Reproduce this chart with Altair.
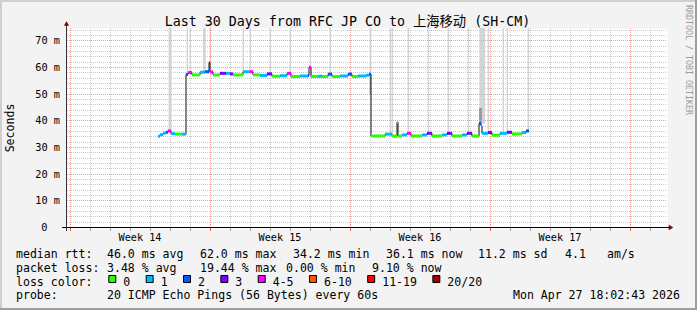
import altair as alt
import pandas as pd

MONO = "DejaVu Sans Mono, Noto Sans CJK SC, monospace"

# ---------------- data ----------------
# median RTT steps: start of step (days since start of window), value (ms), loss class
seg_day = [4.55, 4.65, 4.80, 4.95, 5.05, 5.20, 5.40, 5.75,
           5.95, 6.05, 6.25, 6.65, 6.90, 7.10, 7.15, 7.30, 7.65, 7.95, 8.15, 8.30,
           8.80, 9.15, 9.30, 9.65, 10.00, 10.25, 10.65, 11.00, 11.20, 11.65, 12.05,
           12.10, 12.20, 12.55, 12.75, 13.05, 13.25, 13.65, 14.05, 14.25, 14.55,
           14.95, 15.10,
           15.20, 15.90, 16.25, 16.50, 16.55, 16.75, 17.00, 17.20, 17.75, 18.00,
           18.25, 18.75, 19.00, 19.25, 19.75, 20.00, 20.25, 20.60, 20.70, 20.75,
           21.05, 21.25, 21.65, 22.00, 22.25, 22.75, 22.95]
seg_ms = [34.4, 35.0, 35.6, 35.9, 36.4, 35.4, 35.2, 35.2,
          57.6, 58.3, 57.4, 58.4, 58.6, 62.0, 58.5, 57.4, 58.0, 58.0, 57.8, 57.4,
          58.6, 58.6, 57.4, 57.2, 57.8, 56.9, 57.1, 58.0, 56.8, 57.0, 57.2,
          60.3, 56.8, 56.9, 56.8, 57.7, 56.8, 57.0, 57.7, 56.8, 57.0,
          57.3, 57.7,
          34.5, 35.2, 34.5, 39.7, 34.5, 34.9, 35.5, 34.5, 34.9, 35.5,
          34.5, 34.9, 35.5, 34.5, 34.9, 35.5, 34.5, 39.2, 38.3, 35.5,
          35.8, 34.8, 35.5, 35.9, 35.3, 35.8, 36.4]
seg_loss = ["1", "1", "1", "2", "4-5", "1", "0", "1",
            "2", "4-5", "0", "1", "2", "20/20", "4-5", "0", "3", "1", "3", "0",
            "1", "4-5", "0", "1", "3", "0", "1", "4-5", "0", "1", "2",
            "4-5", "0", "1", "0", "2", "0", "1", "2", "0", "1",
            "1", "2",
            "0", "1", "0", "0", "0", "1", "4-5", "0", "1", "3",
            "0", "1", "3", "0", "1", "3", "0", "2", "1", "1",
            "3", "0", "1", "3", "0", "1", "2"]
seg_end_day = 23.10

# smoke (spread of individual pings) reaching past the top of the graph
smoke_start = [5.08, 5.98, 6.13, 6.80, 7.13, 8.78, 9.13, 10.13, 11.13, 12.13, 13.13,
               15.13, 16.13, 16.23, 17.03, 18.03, 19.03, 20.03, 20.62, 21.03, 21.78,
               21.98, 23.03]
smoke_end = [5.23, 6.05, 6.20, 6.93, 7.20, 8.85, 9.20, 10.20, 11.20, 12.20, 13.20,
             15.22, 16.20, 16.30, 17.10, 18.10, 19.10, 20.10, 20.90, 21.10, 21.85,
             22.05, 23.10]
smoke_floor = [36.0, 57.8, 58.3, 58.6, 62.0, 58.6, 58.6, 57.8, 58.0, 60.3, 57.7,
               57.7, 35.2, 35.2, 35.5, 35.5, 35.5, 35.5, 39.2, 35.8, 35.5,
               35.9, 36.4]
core_start = [20.60, 15.13]
core_end = [20.75, 15.20]
core_low = [39.2, 50.0]
core_high = [45.0, 57.5]

loss_labels = ["0", "1", "2", "3", "4-5", "6-10", "11-19", "20/20"]
loss_colors = ["#26ff00", "#00b8ff", "#0059ff", "#7e00ff", "#ff00ff", "#ff5500",
               "#ff0000", "#a10000"]

week_names = ["Week 14", "Week 15", "Week 16", "Week 17"]
week_start_day = [0.15, 7.15, 14.15, 21.15, 28.15]
day_grid = [0.15 + k for k in range(30)]
y_label_vals = [10, 20, 30, 40, 50, 60, 70]
y_label_text = ["10 m", "20 m", "30 m", "40 m", "50 m", "60 m", "70 m"]
y_zero_text = "0"
y_major = [10, 20, 30, 40, 50, 60, 70]
y_minor = [v for v in range(2, 76, 2) if v % 10]
Y_MAX = 75

title_text = "Last 30 Days from RFC JP CO to 上海移动 (SH-CM)"
y_title = "Seconds"
watermark = "RRDTOOL / TOBI OETIKER"
rtt_items = ["median rtt:", "46.0 ms avg", "62.0 ms max", "34.2 ms min",
             "36.1 ms now", "11.2 ms sd", "4.1", "am/s"]
loss_items = ["packet loss:", "3.48 % avg", "19.44 % max", "0.00 % min", "9.10 % now"]
loss_title = "loss color:"
probe_items = ["probe:", "20 ICMP Echo Pings (56 Bytes) every 60s"]
timestamp = "Mon Apr 27 18:02:43 2026"

# ---------------- layout ----------------
L, T, W, H = 67, 28, 600, 200
FS = 11.55
CH = FS * 0.602
rtt_x = [16, 107, 200, 293, 386, 478, 565, 607]
loss_x = [16, 107, 200, 286, 372]
probe_x = [16, 107]
stamp_x = 513
base_y = [258, 271.8, 285.6, 299.4]

XS = alt.Scale(domain=[0, 30], nice=False, zero=False)
YS = alt.Scale(domain=[0, Y_MAX], nice=False)
one = pd.DataFrame({"a": [0]})

seg_df = pd.DataFrame({"day": seg_day, "end": seg_day[1:] + [seg_end_day],
                       "ms": seg_ms, "loss": seg_loss})
line_df = pd.DataFrame({"day": seg_day + [seg_end_day], "ms": seg_ms + [seg_ms[-1]]})
smoke_df = pd.DataFrame({"s": smoke_start, "e": smoke_end, "lo": smoke_floor})
core_df = pd.DataFrame({"s": core_start, "e": core_end, "lo": core_low, "hi": core_high})

color = alt.Color("loss:N", scale=alt.Scale(domain=loss_labels, range=loss_colors),
                  legend=None)

minor_days = [d for d in day_grid if d not in week_start_day]

# pixel-snapped horizontal grid rows (like rrdtool, rounded to whole pixels)
def hrow(v):
    return round(H - v * H / Y_MAX) - 0.5

layers = []
# horizontal minor grid
layers.append(alt.Chart(pd.DataFrame({"py": [hrow(v) for v in y_minor]})).mark_rule(
    color="#cccccc", strokeDash=[1, 1], strokeWidth=1).encode(
    y=alt.Y("py:Q", scale=None), x=alt.value(0), x2=alt.value(W)))
# vertical minor grid
layers.append(alt.Chart(pd.DataFrame({"d": minor_days})).mark_rule(
    color="#cccccc", strokeDash=[1, 1], strokeWidth=1, xOffset=0.5).encode(
    x=alt.X("d:Q", scale=XS, axis=None), y=alt.value(0), y2=alt.value(H)))
# smoke
layers.append(alt.Chart(smoke_df).mark_rect(color="#d4d4d4").encode(
    x=alt.X("s:Q", scale=XS, axis=None), x2="e:Q",
    y=alt.Y("lo:Q", scale=YS, axis=None), y2=alt.datum(Y_MAX)))
layers.append(alt.Chart(core_df).mark_rect(color="#8c8c8c", opacity=0.8).encode(
    x=alt.X("s:Q", scale=XS, axis=None), x2="e:Q",
    y=alt.Y("lo:Q", scale=YS, axis=None), y2="hi:Q"))
# horizontal major grid
layers.append(alt.Chart(pd.DataFrame({"py": [hrow(v) for v in y_major]})).mark_rule(
    color="#eea0a0", strokeDash=[1, 1], strokeWidth=1).encode(
    y=alt.Y("py:Q", scale=None), x=alt.value(0), x2=alt.value(W)))
# vertical major grid
layers.append(alt.Chart(pd.DataFrame({"d": week_start_day})).mark_rule(
    color="#eea0a0", strokeDash=[1, 1], strokeWidth=1, xOffset=0.5).encode(
    x=alt.X("d:Q", scale=XS, axis=None), y=alt.value(0), y2=alt.value(H)))
# y labels
layers.append(alt.Chart(pd.DataFrame({"py": [hrow(v) for v in y_label_vals],
                                      "t": y_label_text})).mark_text(
    font=MONO, fontSize=10.3, color="black", align="right", baseline="middle",
    dx=-7).encode(x=alt.value(0), y=alt.Y("py:Q", scale=None), text="t:N"))
layers.append(alt.Chart(one).mark_text(
    text=y_zero_text, font=MONO, fontSize=10.3, color="black", align="right",
    baseline="middle").encode(x=alt.value(47.5 - L), y=alt.value(hrow(0))))
# median line (black) and loss-coloured steps
layers.append(alt.Chart(line_df).mark_line(
    interpolate="step-after", color="#111111", strokeWidth=1).encode(
    x=alt.X("day:Q", scale=XS, axis=None), y=alt.Y("ms:Q", scale=YS, axis=None)))
layers.append(alt.Chart(seg_df).mark_rule(strokeWidth=3).encode(
    x=alt.X("day:Q", scale=XS, axis=None), x2="end:Q",
    y=alt.Y("ms:Q", scale=YS, axis=None), color=color))
# axis lines and arrows
layers.append(alt.Chart(one).mark_rule(color="#000000", strokeWidth=1).encode(
    x=alt.value(-5), x2=alt.value(W + 2), y=alt.value(H - 0.5)))
layers.append(alt.Chart(one).mark_rule(color="#333333", strokeWidth=1).encode(
    x=alt.value(-0.5), y=alt.value(H + 3), y2=alt.value(-3)))
layers.append(alt.Chart(one).mark_point(shape="triangle-up", filled=True, size=28,
                                        color="#7f0000", opacity=1).encode(
    x=alt.value(-0.5), y=alt.value(-4.5)))
layers.append(alt.Chart(one).mark_point(shape="triangle-right", filled=True, size=28,
                                        color="#7f0000", opacity=1).encode(
    x=alt.value(W + 4), y=alt.value(H - 0.5)))
# x-axis ticks
layers.append(alt.Chart(pd.DataFrame({"d": minor_days})).mark_rule(
    color="#a0a0a0", xOffset=0.5).encode(
    x=alt.X("d:Q", scale=XS, axis=None), y=alt.value(H), y2=alt.value(H + 3)))
layers.append(alt.Chart(pd.DataFrame({"d": week_start_day})).mark_rule(
    color="#e06060", xOffset=0.5).encode(
    x=alt.X("d:Q", scale=XS, axis=None), y=alt.value(H), y2=alt.value(H + 3)))
# week labels
week_mid = [(week_start_day[i] + week_start_day[i + 1]) / 2 for i in range(4)]
layers.append(alt.Chart(pd.DataFrame({"d": week_mid, "t": week_names})).mark_text(
    font=MONO, fontSize=10.2, color="black", align="center", baseline="alphabetic").encode(
    x=alt.X("d:Q", scale=XS, axis=None), y=alt.value(240.5 - T), text="t:N"))

# title, y title, watermark
layers.append(alt.Chart(one).mark_text(
    text=title_text, font=MONO, fontSize=13.3, color="black", align="center",
    baseline="alphabetic").encode(x=alt.value(347.5 - L), y=alt.value(25.5 - T)))
layers.append(alt.Chart(one).mark_text(
    text=y_title, font=MONO, fontSize=FS, color="black", angle=270, align="center",
    baseline="middle").encode(x=alt.value(10.5 - L), y=alt.value(H / 2)))
layers.append(alt.Chart(one).mark_text(
    text=watermark, font=MONO, fontSize=8.3, color="#9a9a9a", angle=90, align="left",
    baseline="middle").encode(x=alt.value(688 - L), y=alt.value(5 - T)))

# legend text lines
rows = []
for t, x in zip(rtt_items, rtt_x):
    rows.append((x - L, base_y[0] - T, t))
for t, x in zip(loss_items, loss_x):
    rows.append((x - L, base_y[1] - T, t))
rows.append((16 - L, base_y[2] - T, loss_title))
for t, x in zip(probe_items, probe_x):
    rows.append((x - L, base_y[3] - T, t))
rows.append((stamp_x - L, base_y[3] - T, timestamp))
bx = 108.3
box_x, lab_x = [], []
for lab in loss_labels:
    box_x.append(bx)
    lab_x.append(bx + 15)
    bx = bx + 15 + len(lab) * CH + 15.4
for lab, x in zip(loss_labels, lab_x):
    rows.append((x - L, base_y[2] - T, lab))
txt_df = pd.DataFrame(rows, columns=["px", "py", "t"])
layers.append(alt.Chart(txt_df).mark_text(
    font=MONO, fontSize=FS, color="black", align="left", baseline="alphabetic").encode(
    x=alt.X("px:Q", scale=None), y=alt.Y("py:Q", scale=None), text="t:N"))

box_df = pd.DataFrame({"loss": loss_labels,
                       "x1": [b - L + 0.5 for b in box_x],
                       "x2": [b - L + 7.5 for b in box_x],
                       "y1": [275.5 - T] * 8, "y2": [282.5 - T] * 8})
layers.append(alt.Chart(box_df).mark_rect(stroke="black", strokeWidth=1).encode(
    x=alt.X("x1:Q", scale=None), x2="x2:Q",
    y=alt.Y("y1:Q", scale=None), y2="y2:Q", color=color))

# bevel frame
for (x1, x2, y1, y2, c) in [(-L, 697 - L, -T, -T + 2, "#cfcfcf"),
                            (-L, -L + 2, -T, 310 - T, "#cfcfcf"),
                            (-L, 697 - L, 308 - T, 310 - T, "#9e9e9e"),
                            (695 - L, 697 - L, -T, 310 - T, "#9e9e9e")]:
    layers.append(alt.Chart(one).mark_rect(color=c).encode(
        x=alt.value(x1), x2=alt.value(x2), y=alt.value(y1), y2=alt.value(y2)))

chart = alt.layer(*layers).properties(
    width=W, height=H,
    autosize=alt.AutoSizeParams(type="none"),
    padding={"left": L, "top": T, "right": 697 - L - W, "bottom": 310 - T - H},
    background="#f3f3f3",
).configure_view(fill="white", stroke="transparent")

chart.save("out.html", embed_options={"renderer": "svg", "actions": False})
